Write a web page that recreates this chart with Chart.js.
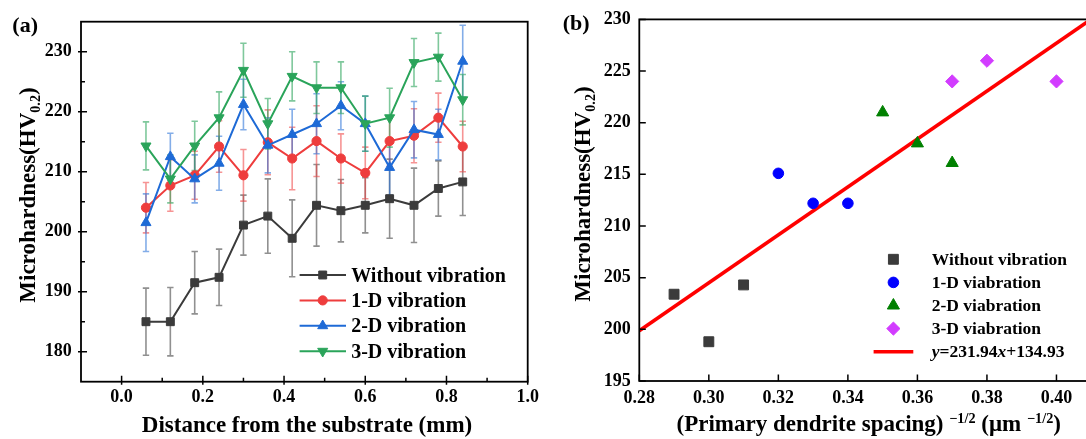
<!DOCTYPE html>
<html><head><meta charset="utf-8">
<script src="https://cdn.jsdelivr.net/npm/chart.js@4.4.1/dist/chart.umd.min.js"></script>
<style>
html,body{margin:0;padding:0;background:#fff;overflow:hidden;width:1086px;height:439px;}
#wa{position:absolute;left:0;top:0;width:560px;height:439px;}
#wb{position:absolute;left:540px;top:0;width:600px;height:439px;}
</style></head><body>
<div id="wa"><canvas id="ca"></canvas></div>
<div id="wb"><canvas id="cb"></canvas></div>
<script>
// ---------- Panel (a) data ----------
const distance = [0.06,0.12,0.18,0.24,0.30,0.36,0.42,0.48,0.54,0.60,0.66,0.72,0.78,0.84];
const hvNoVib  = [185.0,185.0,191.5,192.4,201.1,202.6,198.9,204.4,203.5,204.4,205.5,204.4,207.2,208.3];
const errNoVib = [5.6,5.7,5.2,4.7,5.0,6.2,6.4,6.8,5.2,4.6,6.6,6.2,4.6,5.6];
const hv1D     = [204.0,207.7,209.4,214.2,209.4,214.9,212.2,215.1,212.2,209.8,215.1,216.0,219.0,214.2];
const err1D    = [4.2,4.3,4.0,4.3,4.3,5.4,5.2,5.9,4.1,4.3,4.2,4.5,4.1,4.2];
const hv2D     = [201.5,212.5,208.8,211.4,221.2,214.4,216.2,218.0,221.0,218.0,210.7,217.0,216.2,228.4];
const err2D    = [4.8,3.9,4.0,4.5,4.2,4.6,4.2,5.0,4.0,4.6,4.6,4.7,4.2,6.0];
const hv3D     = [214.3,208.8,214.3,219.0,226.9,218.0,225.9,224.0,224.0,218.0,219.0,228.2,229.1,222.0];
const err3D    = [4.0,4.0,4.1,4.3,4.5,4.2,4.1,4.3,4.3,4.6,4.9,4.0,4.0,4.2];
const seriesNamesA = ['Without vibration','1-D vibration','2-D vibration','3-D vibration'];
const xTicksA = [0.0,0.2,0.4,0.6,0.8,1.0];
const xMinorA = [0.1,0.3,0.5,0.7,0.9];
const yTicksA = [180,190,200,210,220,230];
const yMinorA = [185,195,205,215,225];

// ---------- Panel (b) data ----------
const spacingNoVib = [0.29,0.30,0.31];
const hvbNoVib     = [203.4,198.8,204.3];
const spacing1D    = [0.32,0.33,0.34];
const hvb1D        = [215.1,212.2,212.2];
const spacing2D    = [0.35,0.36,0.37];
const hvb2D        = [221.0,218.0,216.1];
const spacing3D    = [0.37,0.38,0.40];
const hvb3D        = [224.0,226.0,224.0];
const fitX         = [0.28,0.42];
const fitY         = [199.87,232.34];
const seriesNamesB = ['Without vibration','1-D viabration','2-D viabration','3-D viabration','y=231.94x+134.93'];
const xTicksB = [0.28,0.30,0.32,0.34,0.36,0.38,0.40];
const yTicksB = [195,200,205,210,215,220,225,230];

const FONT = '"Liberation Serif","Times New Roman",serif';
const pts = (xs, ys) => xs.map((v, i) => ({x: v, y: ys[i]}));

function drawRich(ctx, parts, x, y, size, align) {
  const fontOf = p => `${p.i ? 'italic ' : ''}bold ${p.s ? size * 0.62 : size}px ${FONT}`;
  let w = 0;
  parts.forEach(p => { ctx.font = fontOf(p); p.w = ctx.measureText(p.t).width; w += p.w; });
  let cx = align === 'center' ? x - w / 2 : (align === 'right' ? x - w : x);
  ctx.textAlign = 'left'; ctx.textBaseline = 'alphabetic';
  parts.forEach(p => {
    ctx.font = fontOf(p);
    const dy = p.s === 'sub' ? size * 0.22 : (p.s === 'sup' ? -size * 0.36 : 0);
    ctx.fillText(p.t, cx, y + dy);
    cx += p.w;
  });
}

const frameTicks = {
  id: 'frameTicks',
  afterDraw(chart, args, o) {
    const {ctx, chartArea: a, scales: {x, y}} = chart;
    ctx.save();
    ctx.strokeStyle = '#000';
    ctx.lineWidth = o.lw;
    ctx.beginPath();
    o.xMajor.forEach(v => { const p = x.getPixelForValue(v); ctx.moveTo(p, a.bottom + o.out); ctx.lineTo(p, a.bottom - o.inMaj); });
    (o.xMinor || []).forEach(v => { const p = x.getPixelForValue(v); ctx.moveTo(p, a.bottom); ctx.lineTo(p, a.bottom - o.inMin); });
    o.yMajor.forEach(v => { const p = y.getPixelForValue(v); ctx.moveTo(a.left - o.out, p); ctx.lineTo(a.left + o.inMaj, p); });
    (o.yMinor || []).forEach(v => { const p = y.getPixelForValue(v); ctx.moveTo(a.left, p); ctx.lineTo(a.left + o.inMin, p); });
    ctx.stroke();
    ctx.lineWidth = o.frame;
    ctx.strokeRect(a.left, a.top, a.right - a.left, a.bottom - a.top);
    ctx.restore();
  }
};

const errorBars = {
  id: 'errorBars',
  beforeDatasetsDraw(chart, args, o) {
    const {ctx, scales: {x, y}} = chart;
    ctx.save();
    ctx.lineWidth = o.lw;
    chart.data.datasets.forEach(ds => {
      if (!ds.errors) return;
      ctx.strokeStyle = ds.errorColor;
      ctx.beginPath();
      ds.data.forEach((p, j) => {
        const px = x.getPixelForValue(p.x), e = ds.errors[j];
        const t = y.getPixelForValue(p.y + e), b = y.getPixelForValue(p.y - e);
        ctx.moveTo(px, t); ctx.lineTo(px, b);
        ctx.moveTo(px - o.cap, t); ctx.lineTo(px + o.cap, t);
        ctx.moveTo(px - o.cap, b); ctx.lineTo(px + o.cap, b);
      });
      ctx.stroke();
    });
    ctx.restore();
  }
};

const insideLegend = {
  id: 'insideLegend',
  afterDraw(chart, args, o) {
    const ctx = chart.ctx;
    ctx.save();
    chart.data.datasets.forEach((ds, i) => {
      const yy = o.y0 + i * o.dy;
      if (ds.showLine !== false) {
        ctx.strokeStyle = ds.borderColor;
        ctx.lineWidth = ds.borderWidth;
        ctx.beginPath(); ctx.moveTo(o.lx, yy); ctx.lineTo(o.lx + o.len, yy); ctx.stroke();
      }
      if (ds.pointRadius > 0) {
        ctx.fillStyle = ds.pointBackgroundColor;
        ctx.strokeStyle = ds.pointBorderColor;
        ctx.lineWidth = 1;
        Chart.helpers.drawPoint(ctx, {pointStyle: ds.pointStyle, radius: ds.pointRadius, rotation: ds.pointRotation || 0, borderWidth: 1}, o.mx, yy);
      }
      ctx.fillStyle = '#000';
      const parts = ds.italicVars
        ? ds.label.split(/([xy])/).filter(s => s).map(s => ({t: s, i: s === 'x' || s === 'y'}))
        : [{t: ds.label}];
      drawRich(ctx, parts, o.tx, yy + o.size * 0.33, o.size, 'left');
    });
    ctx.restore();
  }
};

const titles = {
  id: 'titles',
  afterDraw(chart, args, o) {
    const ctx = chart.ctx;
    ctx.save();
    ctx.fillStyle = '#000';
    o.items.forEach(it => {
      ctx.save();
      ctx.translate(it.x, it.y);
      if (it.rot) ctx.rotate(-Math.PI / 2);
      drawRich(ctx, it.parts.map(p => Object.assign({}, p)), 0, 0, it.size, it.align);
      ctx.restore();
    });
    ctx.restore();
  }
};

function mkSeries(label, ys, errs, color, errColor, style, radius, rot, order) {
  return {
    label, data: pts(distance, ys), errors: errs, errorColor: errColor,
    borderColor: color, backgroundColor: color, borderWidth: 2,
    pointStyle: style, pointRadius: radius, pointRotation: rot,
    pointBackgroundColor: color, pointBorderColor: color, pointBorderWidth: 1,
    showLine: true, order, tension: 0
  };
}

const tickFont = {family: FONT, size: 18, weight: 'bold'};

new Chart(document.getElementById('ca'), {
  type: 'line',
  data: {datasets: [
    mkSeries(seriesNamesA[0], hvNoVib, errNoVib, '#3b3b3b', 'rgba(70,70,70,0.6)', 'rect', 5.6, 0, 4),
    mkSeries(seriesNamesA[1], hv1D, err1D, '#ee3d3d', 'rgba(238,61,61,0.55)', 'circle', 4.6, 0, 3),
    mkSeries(seriesNamesA[2], hv2D, err2D, '#1e6ad6', 'rgba(30,106,214,0.55)', 'triangle', 5.8, 0, 2),
    mkSeries(seriesNamesA[3], hv3D, err3D, '#2aa45a', 'rgba(42,164,90,0.6)', 'triangle', 5.8, 180, 1)
  ]},
  options: {
    responsive: true, maintainAspectRatio: false, animation: false,
    layout: {padding: {left: 0, right: 32.3, top: 21.7, bottom: 0}},
    scales: {
      x: {type: 'linear', min: -0.1, max: 1.0,
        afterFit(s) { s.height = 57.3; },
        afterBuildTicks(s) { s.ticks = xTicksA.map(v => ({value: v})); },
        grid: {display: false, drawTicks: false}, border: {display: false},
        ticks: {padding: 5, font: tickFont, color: '#000', callback: v => Number(v).toFixed(1)}},
      y: {type: 'linear', min: 175, max: 235,
        afterFit(s) { s.width = 81; },
        afterBuildTicks(s) { s.ticks = yTicksA.map(v => ({value: v})); },
        grid: {display: false, drawTicks: false}, border: {display: false},
        ticks: {padding: 9.3, font: tickFont, color: '#000', callback: v => String(v)}}
    },
    plugins: {
      legend: {display: false}, tooltip: {enabled: false},
      errorBars: {lw: 1.6, cap: 3.2},
      frameTicks: {lw: 1.5, frame: 1.8, out: 3, inMaj: 6, inMin: 4, xMajor: xTicksA, xMinor: xMinorA, yMajor: yTicksA, yMinor: yMinorA},
      insideLegend: {lx: 299.6, len: 46.4, mx: 322.7, tx: 351.2, y0: 275, dy: 25.4, size: 20},
      titles: {items: [
        {x: 12.3, y: 31.7, size: 22, align: 'left', parts: [{t: '(a)'}]},
        {x: 34.5, y: 195, rot: true, size: 23, align: 'center', parts: [{t: 'Microhardness(HV'}, {t: '0.2', s: 'sub'}, {t: ')'}]},
        {x: 307, y: 432, size: 23, align: 'center', parts: [{t: 'Distance from the substrate (mm)'}]}
      ]}
    }
  },
  plugins: [errorBars, frameTicks, insideLegend, titles]
});

function mkScatter(label, xs, ys, color, style, radius, order) {
  return {
    type: 'scatter', label, data: pts(xs, ys), showLine: false,
    borderColor: color, backgroundColor: color, borderWidth: 0,
    pointStyle: style, pointRadius: radius, pointBackgroundColor: color,
    pointBorderColor: color, pointBorderWidth: 1, order
  };
}

new Chart(document.getElementById('cb'), {
  type: 'scatter',
  data: {datasets: [
    mkScatter(seriesNamesB[0], spacingNoVib, hvbNoVib, '#3b3b3b', 'rect', 7, 1),
    mkScatter(seriesNamesB[1], spacing1D, hvb1D, '#0000ff', 'circle', 5.3, 1),
    mkScatter(seriesNamesB[2], spacing2D, hvb2D, '#008000', 'triangle', 7, 1),
    mkScatter(seriesNamesB[3], spacing3D, hvb3D, '#d23cff', 'rectRot', 6.6, 1),
    {type: 'line', label: seriesNamesB[4], data: pts(fitX, fitY), showLine: true, italicVars: true,
     borderColor: '#ff0000', backgroundColor: '#ff0000', borderWidth: 3.6, pointRadius: 0, order: 2, tension: 0}
  ]},
  options: {
    responsive: true, maintainAspectRatio: false, animation: false,
    layout: {padding: {left: 0, right: 14, top: 17.7, bottom: 0}},
    scales: {
      x: {type: 'linear', min: 0.28, max: 0.42,
        afterFit(s) { s.height = 58; },
        afterBuildTicks(s) { s.ticks = xTicksB.map(v => ({value: v})); },
        grid: {display: false, drawTicks: false}, border: {display: false},
        ticks: {padding: 7, font: tickFont, color: '#000', callback: v => Number(v).toFixed(2)}},
      y: {type: 'linear', min: 195, max: 230,
        afterFit(s) { s.width = 99.3; },
        afterBuildTicks(s) { s.ticks = yTicksB.map(v => ({value: v})); },
        grid: {display: false, drawTicks: false}, border: {display: false},
        ticks: {padding: 8.6, font: tickFont, color: '#000', callback: v => String(v)}}
    },
    plugins: {
      legend: {display: false}, tooltip: {enabled: false},
      frameTicks: {lw: 1.5, frame: 1.8, out: 0, inMaj: 6.5, inMin: 0, xMajor: xTicksB, yMajor: yTicksB},
      insideLegend: {lx: 333.6, len: 39.7, mx: 353.4, tx: 391.7, y0: 259.3, dy: 23.1, size: 17.5},
      titles: {items: [
        {x: 22.7, y: 30, size: 22, align: 'left', parts: [{t: '(b)'}]},
        {x: 50, y: 194, rot: true, size: 23, align: 'center', parts: [{t: 'Microhardness(HV'}, {t: '0.2', s: 'sub'}, {t: ')'}]},
        {x: 328.7, y: 431, size: 23, align: 'center', parts: [{t: '(Primary dendrite spacing) '}, {t: '\u22121/2', s: 'sup'}, {t: ' (\u03bcm '}, {t: '\u22121/2', s: 'sup'}, {t: ')'}]}
      ]}
    }
  },
  plugins: [frameTicks, insideLegend, titles]
});
</script>
</body></html>
